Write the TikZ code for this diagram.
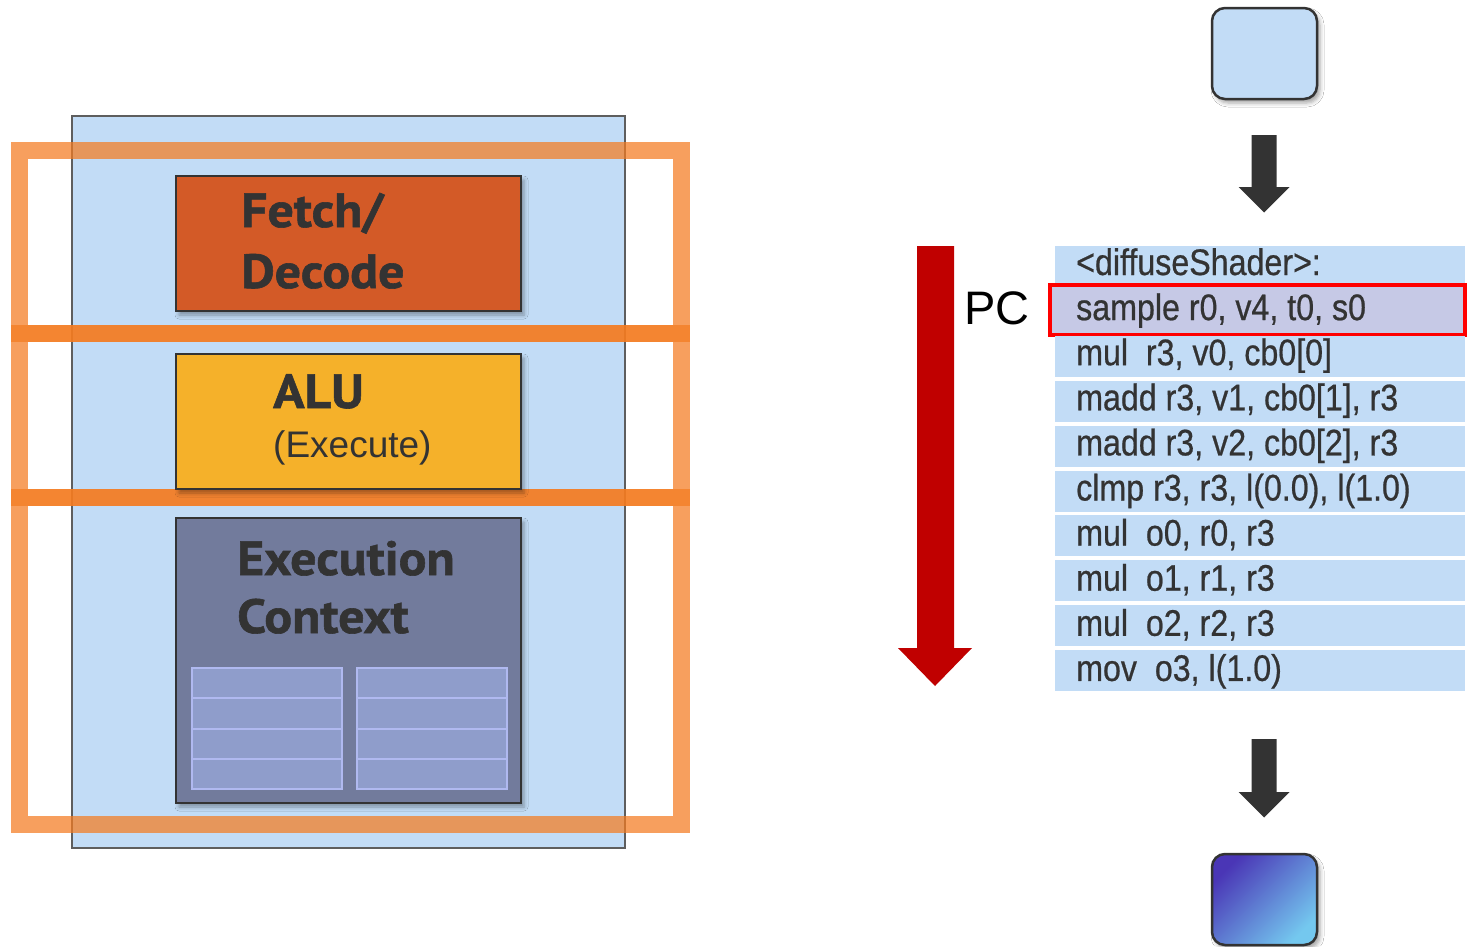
\documentclass[tikz,border=0pt]{standalone}
\usepackage{fontspec}
\usetikzlibrary{shadows.blur}
\newfontfamily\unitfont[FakeStretch=1.08,BoldFeatures={FakeBold=1.2}]{PT Sans}
\newfontfamily\plainfont{Liberation Sans}
\newfontfamily\codefont[FakeStretch=0.87,FakeBold=0.6]{Liberation Sans}
\definecolor{paneblue}{HTML}{C2DCF6}
\definecolor{panerim}{HTML}{5E5E5E}
\definecolor{ink}{HTML}{333333}
\definecolor{stageorange}{HTML}{F47B20}
\definecolor{fetchorange}{HTML}{D35A27}
\definecolor{aluyellow}{HTML}{F5B12A}
\definecolor{ctxslate}{HTML}{727B9C}
\definecolor{cellfill}{HTML}{8F9DCB}
\definecolor{cellrim}{HTML}{B0B9F0}
\definecolor{hilite}{HTML}{C6C9E6}
\definecolor{pcred}{HTML}{C00000}
\definecolor{outtop}{HTML}{4A36B6}
\definecolor{outbottom}{HTML}{74C8EF}
\begin{document}
\begin{tikzpicture}[x=1pt,y=-1pt,
  box/.style={inner sep=0pt, outer sep=0pt, anchor=north west},
  unit/.style={box, draw=ink, line width=2.5pt,
    blur shadow={shadow xshift=3pt, shadow yshift=-4pt, shadow blur radius=4pt, shadow opacity=35}},
  stage/.style={draw=stageorange, draw opacity=0.72, line width=17pt},
  unitlabel/.style={anchor=base west, inner sep=0pt, text=ink, font=\unitfont\bfseries\fontsize{48}{58}\selectfont},
  coderow/.style={box, fill=paneblue, minimum width=410pt, minimum height=41pt},
  codetext/.style={anchor=base west, inner sep=0pt, text=ink, font=\codefont\fontsize{37}{44}\selectfont},
  cell/.style={box, fill=cellfill, draw=cellrim, line width=2pt, minimum width=150pt, minimum height=30.25pt},
  slab/.style={box, draw=ink, line width=2.5pt, rounded corners=13pt, minimum width=105pt, minimum height=91pt,
    blur shadow={shadow xshift=3pt, shadow yshift=-4pt, shadow blur radius=4pt, shadow opacity=35}},
  flow/.style={fill=ink, draw=none}]
\fill[white] (0,0) rectangle (1468,946);
\useasboundingbox (0,0) rectangle (1468,946);

% processor core
\node[box, fill=paneblue, draw=panerim, line width=2pt, minimum width=553pt, minimum height=732pt] (core) at (72,116) {};

% pipeline stage frames
\draw[stage] (19,150) rectangle (681,333.5);
\draw[stage] (19,333.5) rectangle (681,497.5);
\draw[stage] (19,497.5) rectangle (681,824);

% fetch / decode
\node[unit, fill=fetchorange, minimum width=345pt, minimum height=135pt] (fetch) at (176,176) {};
\node[unitlabel] (fetchA) at (241,227) {Fetch/};
\node[unitlabel] (fetchB) at (241,288) {Decode};

% ALU
\node[unit, fill=aluyellow, minimum width=345pt, minimum height=135pt] (alu) at (176,354) {};
\node[unitlabel] (aluA) at (273,408) {ALU};
\node[anchor=base west, inner sep=0pt, text=ink, font=\plainfont\fontsize{37}{44}\selectfont] (aluB) at (273,457) {(Execute)};

% execution context with register slots
\node[unit, fill=ctxslate, minimum width=345pt, minimum height=285pt] (ctx) at (176,518) {};
\node[unitlabel] (ctxA) at (237,575) {Execution};
\node[unitlabel] (ctxB) at (237,633) {Context};
\foreach \c/\cx in {L/192,R/357}
  \foreach \r in {0,...,3}
    \node[cell] (cell\c\r) at (\cx,{668+30.25*\r}) {};

% shader program listing
\foreach \t [count=\k from 0] in {{<diffuseShader>:},{sample r0, v4, t0, s0},{mul\ \ r3, v0, cb0[0]},
    {madd r3, v1, cb0[1], r3},{madd r3, v2, cb0[2], r3},{clmp r3, r3, l(0.0), l(1.0)},
    {mul\ \ o0, r0, r3},{mul\ \ o1, r1, r3},{mul\ \ o2, r2, r3},{mov\ \ o3, l(1.0)}}{
  \node[coderow] (row\k) at (1055,{246+44.9*\k}) {};
  \ifnum\k=1
    \node[box, fill=hilite, draw=red, line width=4pt, minimum width=415pt, minimum height=50pt] (current) at (1050,285) {};
  \fi
  \node[codetext] (line\k) at (1076,{275+45.1*\k}) {\t};
}

% program counter
\fill[pcred] (917,246) -- (954,246) -- (954,648) -- (972,648) -- (935,686) -- (898,648) -- (917,648) -- cycle;
\node[anchor=base west, inner sep=0pt, font=\plainfont\fontsize{47}{56}\selectfont] (pc) at (964,324) {PC};

% input and output fragments
\node[slab, fill=paneblue] (input) at (1212,8) {};
\fill[flow] (1251.5,135) -- (1276.5,135) -- (1276.5,187) -- (1289.5,187) -- (1264,212.5) -- (1238.5,187) -- (1251.5,187) -- cycle;
\fill[flow] (1251.5,739) -- (1276.5,739) -- (1276.5,792) -- (1289.5,792) -- (1264,817.5) -- (1238.5,792) -- (1251.5,792) -- cycle;
\node[slab, top color=outtop, bottom color=outbottom, shading angle=45] (output) at (1212,854) {};
\end{tikzpicture}
\end{document}
